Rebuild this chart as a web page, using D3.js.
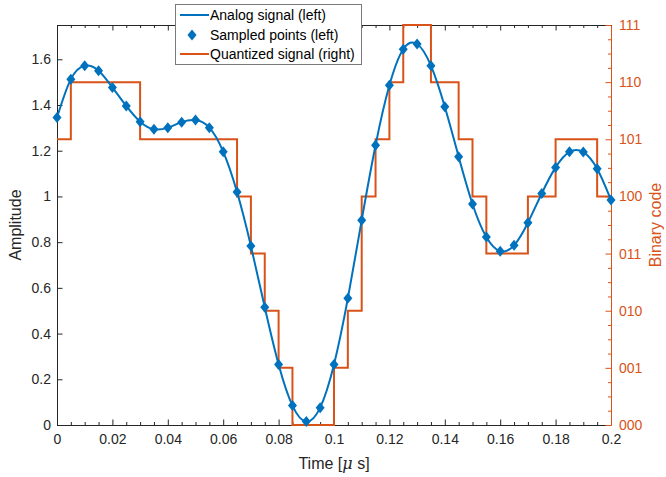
<!DOCTYPE html>
<html><head><meta charset="utf-8">
<script src="https://cdn.jsdelivr.net/npm/d3@7"></script>
<style>
body{margin:0;background:#fff;}
svg{display:block;font-family:"Liberation Sans",Arial,sans-serif;}
</style></head>
<body><svg id="c" width="666" height="477"></svg>
<script>
// ---- data ----
const times = [0,0.005,0.01,0.015,0.02,0.025,0.03,0.035,0.04,0.045,0.05,0.055,0.06,0.065,0.07,0.075,0.08,0.085,0.09,0.095,0.1,0.105,0.11,0.115,0.12,0.125,0.13,0.135,0.14,0.145,0.15,0.155,0.16,0.165,0.17,0.175,0.18,0.185,0.19,0.195,0.2];
const samples = [1.345,1.513,1.572,1.550,1.477,1.396,1.327,1.294,1.301,1.325,1.334,1.301,1.196,1.019,0.783,0.515,0.265,0.085,0.015,0.076,0.265,0.554,0.896,1.224,1.486,1.644,1.667,1.572,1.392,1.174,0.967,0.822,0.760,0.786,0.885,1.013,1.127,1.195,1.194,1.121,0.984];
const codes = [5,6,6,6,6,6,5,5,5,5,5,5,5,4,3,2,1,0,0,0,1,2,4,5,6,7,7,6,6,5,4,3,3,3,4,4,5,5,5,4,4];
const xTicks = [0,0.02,0.04,0.06,0.08,0.1,0.12,0.14,0.16,0.18,0.2];
const xTickLabels = ["0","0.02","0.04","0.06","0.08","0.1","0.12","0.14","0.16","0.18","0.2"];
const yTicks = [0,0.2,0.4,0.6,0.8,1,1.2,1.4,1.6];
const yTickLabels = ["0","0.2","0.4","0.6","0.8","1","1.2","1.4","1.6"];
const codeTicks = [0,1,2,3,4,5,6,7];
const codeTickLabels = ["000","001","010","011","100","101","110","111"];
const xMinor = [0.005,0.01,0.015,0.025,0.03,0.035,0.045,0.05,0.055,0.065,0.07,0.075,0.085,0.09,0.095,0.105,0.11,0.115,0.125,0.13,0.135,0.145,0.15,0.155,0.165,0.17,0.175,0.185,0.19,0.195];
const codeMinor = [0.25,0.5,0.75,1.25,1.5,1.75,2.25,2.5,2.75,3.25,3.5,3.75,4.25,4.5,4.75,5.25,5.5,5.75,6.25,6.5,6.75];
const legendLabels = ["Analog signal (left)","Sampled points (left)","Quantized signal (right)"];

// ---- layout ----
const L=57,R=611,T=25,B=425;
const BLUE="#0072BD", ORANGE="#D95319", INK="#262626";
const svg=d3.select("#c");
const x=d3.scaleLinear().domain([0,0.2]).range([L,R]);
const yL=d3.scaleLinear().domain([0,1.75]).range([B,T]);
const yR=d3.scaleLinear().domain([0,7]).range([B,T]);

function style(g,color){
  g.selectAll("text").attr("fill",color).style("font-size","14px").style("font-family","'Liberation Sans',Arial,sans-serif");
  g.selectAll("line").attr("stroke",color);
  g.selectAll("path.domain").attr("stroke",color);
}
// bottom axis
const gb=svg.append("g").attr("transform",`translate(0,${B})`)
  .call(d3.axisBottom(x).tickValues(xTicks).tickFormat((d,i)=>xTickLabels[i]).tickSizeInner(-5.5).tickSizeOuter(0).tickPadding(9));
style(gb,INK);
const gbm=svg.append("g").attr("transform",`translate(0,${B})`)
  .call(d3.axisBottom(x).tickValues(xMinor).tickFormat("").tickSizeInner(-3).tickSizeOuter(0));
gbm.select(".domain").remove(); style(gbm,INK);
// top axis
const gt=svg.append("g").attr("transform",`translate(0,${T})`)
  .call(d3.axisTop(x).tickValues(xTicks).tickFormat("").tickSizeInner(-5.5).tickSizeOuter(0));
style(gt,INK);
const gtm=svg.append("g").attr("transform",`translate(0,${T})`)
  .call(d3.axisTop(x).tickValues(xMinor).tickFormat("").tickSizeInner(-3).tickSizeOuter(0));
gtm.select(".domain").remove(); style(gtm,INK);
// left axis
const gl=svg.append("g").attr("transform",`translate(${L},0)`)
  .call(d3.axisLeft(yL).tickValues(yTicks).tickFormat((d,i)=>yTickLabels[i]).tickSizeInner(-5.5).tickSizeOuter(0).tickPadding(6));
style(gl,INK);
// right axis
const gr=svg.append("g").attr("transform",`translate(${R},0)`)
  .call(d3.axisRight(yR).tickValues(codeTicks).tickFormat((d,i)=>codeTickLabels[i]).tickSizeInner(-5.5).tickSizeOuter(0).tickPadding(8));
style(gr,ORANGE);
const grm=svg.append("g").attr("transform",`translate(${R},0)`)
  .call(d3.axisRight(yR).tickValues(codeMinor).tickFormat("").tickSizeInner(-3).tickSizeOuter(0));
grm.select(".domain").remove(); style(grm,ORANGE);

// axis labels
svg.append("text").attr("x",(L+R)/2).attr("y",469).attr("text-anchor","middle")
  .attr("fill",INK).style("font-size","16px")
  .html('Time [<tspan font-style="italic" font-family="DejaVu Serif">μ</tspan> s]');
svg.append("text").attr("transform",`translate(21,${(T+B)/2}) rotate(-90)`).attr("text-anchor","middle")
  .attr("fill",INK).style("font-size","16px").text("Amplitude");
svg.append("text").attr("transform",`translate(661,${(T+B)/2}) rotate(-90)`).attr("text-anchor","middle")
  .attr("fill",ORANGE).style("font-size","16px").text("Binary code");

// quantized stairs
const stairs=[];
codes.forEach((c,i)=>{ stairs.push([times[i],c]); if(i<codes.length-1) stairs.push([times[i+1],c]); });
svg.append("path").datum(stairs)
  .attr("d",d3.line().x(d=>x(d[0])).y(d=>yR(d[1])))
  .attr("fill","none").attr("stroke",ORANGE).attr("stroke-width",2);

// analog line
const pts=times.map((t,i)=>[t,samples[i]]);
svg.append("path").datum(pts)
  .attr("d",d3.line().x(d=>x(d[0])).y(d=>yL(d[1])).curve(d3.curveNatural))
  .attr("fill","none").attr("stroke",BLUE).attr("stroke-width",2);

// sampled points
const dia=(cx,cy)=>`M${cx},${cy-5.5}L${cx+4.5},${cy}L${cx},${cy+5.5}L${cx-4.5},${cy}Z`;
svg.append("g").selectAll("path").data(pts).join("path")
  .attr("d",d=>dia(x(d[0]),yL(d[1]))).attr("fill",BLUE);

// legend
const lg=svg.append("g");
lg.append("rect").attr("x",175.5).attr("y",4.5).attr("width",186).attr("height",60)
  .attr("fill","#fff").attr("stroke","#7a7a7a").attr("stroke-width",1);
const rows=[15,35,54];
lg.append("line").attr("x1",180).attr("x2",209).attr("y1",rows[0]).attr("y2",rows[0]).attr("stroke",BLUE).attr("stroke-width",2);
lg.append("path").attr("d",dia(192,rows[1])).attr("fill",BLUE);
lg.append("line").attr("x1",180).attr("x2",209).attr("y1",rows[2]).attr("y2",rows[2]).attr("stroke",ORANGE).attr("stroke-width",2);
legendLabels.forEach((t,i)=>{
  lg.append("text").attr("x",210).attr("y",rows[i]).attr("dy","0.35em")
    .attr("fill","#000").style("font-size","14px").text(t);
});
</script></body></html>
